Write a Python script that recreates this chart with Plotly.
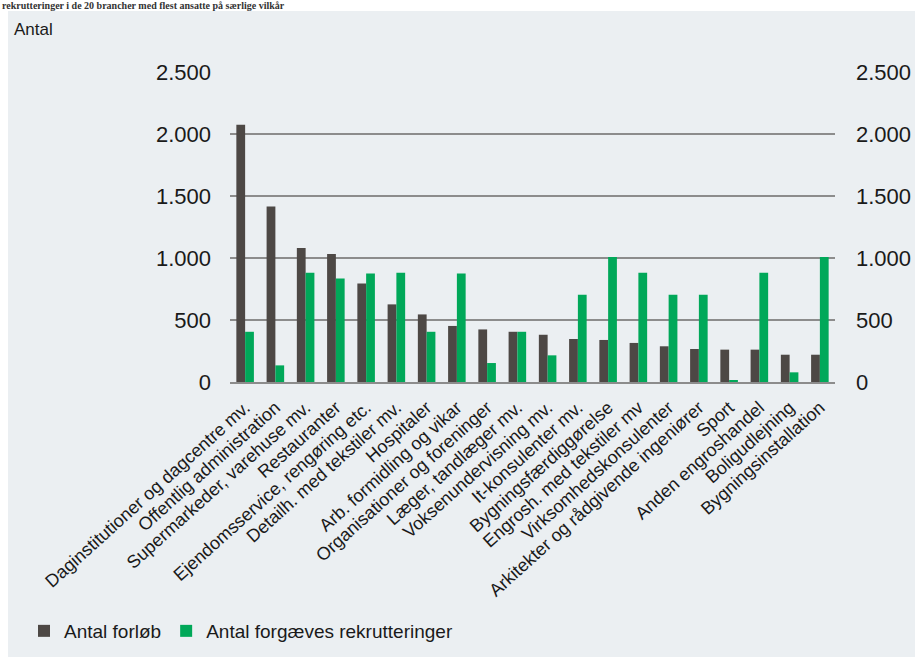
import plotly.graph_objects as go

categories = [
    "Daginstitutioner og dagcentre mv.",
    "Offentlig administration",
    "Supermarkeder, varehuse mv.",
    "Restauranter",
    "Ejendomsservice, rengøring etc.",
    "Detailh. med tekstiler mv.",
    "Hospitaler",
    "Arb. formidling og vikar",
    "Organisationer og foreninger",
    "Læger, tandlæger mv.",
    "Voksenundervisning mv.",
    "It-konsulenter mv.",
    "Bygningsfærdiggørelse",
    "Engrosh. med tekstiler mv",
    "Virksomhedskonsulenter",
    "Arkitekter og rådgivende ingeniører",
    "Sport",
    "Anden engroshandel",
    "Boligudlejning",
    "Bygningsinstallation",
]
antal_forloeb = [2075, 1416, 1081, 1032, 795, 626, 545, 452, 424, 405,
                 381, 347, 339, 315, 288, 266, 261, 261, 220, 220]
antal_forgaeves = [405, 134, 881, 835, 876, 881, 405, 876, 153, 405,
                   215, 704, 1008, 881, 704, 704, 10, 881, 78, 1008]
y_ticks = [0, 500, 1000, 1500, 2000, 2500]

title_text = "rekrutteringer i de 20 brancher med flest ansatte på særlige vilkår"
y_label = "Antal"

DARK = "#4D4845"
GREEN = "#00A859"
PANEL = "#EBEFF2"
GRID = "#8C8C8C"
FONT = "Liberation Sans, Arial, sans-serif"

W, H = 915, 657
L, R, T, B = 230, 80, 72, 275
PW = W - L - R
PH = H - T - B


def px_x(p):
    return (p - L) / PW


def px_y(p):
    return (H - B - p) / PH


fig = go.Figure()
fig.add_trace(go.Bar(x=categories, y=antal_forloeb, name="Antal forløb",
                     marker=dict(color=DARK, line=dict(width=0))))
fig.add_trace(go.Bar(x=categories, y=antal_forgaeves, name="Antal forgæves rekrutteringer",
                     marker=dict(color=GREEN, line=dict(width=0))))
# invisible trace to activate right axis
fig.add_trace(go.Scatter(x=[categories[0]], y=[0], yaxis="y2", mode="lines",
                         line=dict(width=0), showlegend=False, hoverinfo="skip"))

fig.update_layout(
    width=W, height=H,
    margin=dict(l=L, r=R, t=T, b=B, pad=0, autoexpand=False),
    paper_bgcolor="white",
    plot_bgcolor="rgba(0,0,0,0)",
    separators=",.",
    barmode="group",
    bargap=0.42,
    bargroupgap=0,
    font=dict(family=FONT, color="#1A1A1A"),
    showlegend=True,
    legend=dict(orientation="h", x=px_x(24), y=px_y(631), xanchor="left", yanchor="middle",
                font=dict(size=19, color="#1A1A1A"), bgcolor="rgba(0,0,0,0)",
                itemclick=False, itemdoubleclick=False),
    xaxis=dict(range=[-0.5, len(categories) - 0.5], tickangle=-42,
               tickfont=dict(size=18, color="#1A1A1A"),
               showline=True, linecolor=GRID, linewidth=2, ticks="",
               showgrid=False, ticklabelstandoff=6, automargin=False),
    yaxis=dict(range=[0, 2500], tickvals=y_ticks, tickformat=",d",
               showgrid=True, gridcolor=GRID, gridwidth=1.5, zeroline=False,
               showline=False, ticks="", tickfont=dict(size=22, color="#1A1A1A"),
               ticklabelstandoff=18, automargin=False),
    yaxis2=dict(range=[0, 2500], tickvals=y_ticks, tickformat=",d", overlaying="y",
                side="right", showgrid=False, zeroline=False, showline=False, ticks="",
                tickfont=dict(size=22, color="#1A1A1A"), ticklabelstandoff=20,
                automargin=False),
    shapes=[dict(type="rect", xref="paper", yref="paper", x0=px_x(8), x1=px_x(W + 5),
                 y0=px_y(H + 5), y1=px_y(11), fillcolor=PANEL, line=dict(width=0),
                 layer="below")],
    annotations=[
        dict(text=y_label, xref="paper", yref="paper", x=px_x(12), y=px_y(30),
             xanchor="left", yanchor="middle", showarrow=False,
             font=dict(size=17, color="#1A1A1A", family=FONT)),
        dict(text="<b>" + title_text + "</b>", xref="paper", yref="paper", x=px_x(0),
             y=px_y(5), xanchor="left", yanchor="middle", showarrow=False,
             font=dict(size=10, color="#333333", family="Liberation Serif, serif")),
    ],
)

fig.write_html("out.html", config={"displayModeBar": False},
               post_script="document.body.style.margin='0';")
